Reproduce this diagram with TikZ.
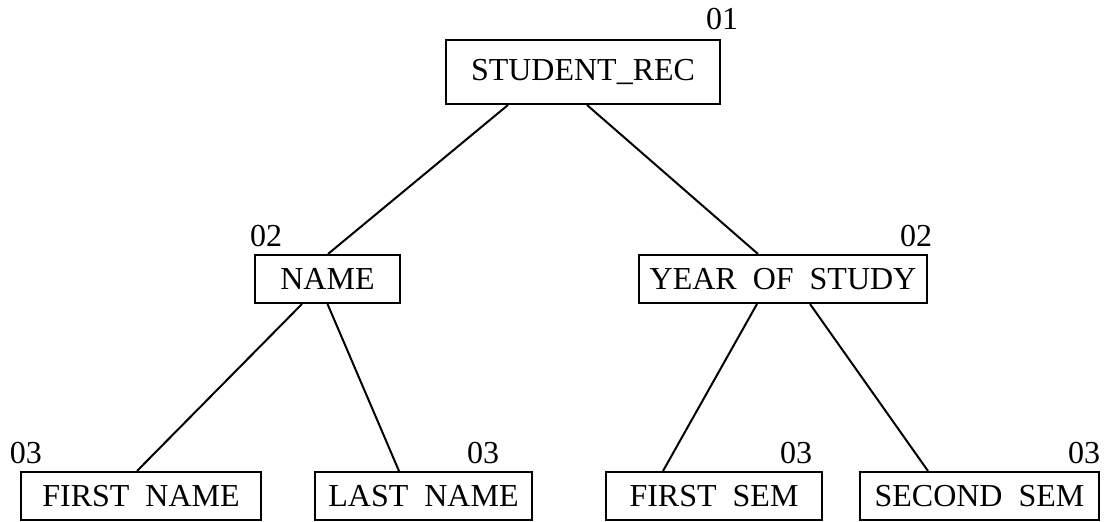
\documentclass[tikz,border=0pt]{standalone}
\usepackage{fontspec}
\setmainfont{Liberation Serif}
\usetikzlibrary{calc}

\begin{document}
\begin{tikzpicture}[x=0.5pt, y=-0.5pt]

  \tikzstyle{field} = [rectangle, draw=black, line width=1pt, inner sep=0pt, minimum height=24pt, text centered, font=\fontsize{16}{19}\selectfont]
  \tikzstyle{level} = [inner sep=0pt, font=\fontsize{16}{19}\selectfont]
  \tikzstyle{link} = [line width=1pt]

  \useasboundingbox (0,0) rectangle (1104,522);

  \node (rec)   [field, minimum width=137pt, minimum height=32pt] at (583,72) {STUDENT\_REC};
  \node (name)  [field, minimum width=72.5pt] at (327.5,279) {NAME};
  \node (year)  [field, minimum width=144pt] at (783,279) {YEAR\ \ OF\ \ STUDY};
  \node (fname) [field, minimum width=120pt] at (141,496) {FIRST\ \ NAME};
  \node (lname) [field, minimum width=108.5pt] at (423.5,496) {LAST\ \ NAME};
  \node (fsem)  [field, minimum width=108pt] at (714,496) {FIRST\ \ SEM};
  \node (ssem)  [field, minimum width=119.5pt] at (979.5,496) {SECOND\ \ SEM};

  % level numbers
  \node (lrec)   [level] at ($(rec.north east)+(1,-20)$) {01};
  \node (lname0) [level] at ($(name.north west)+(12,-18)$) {02};
  \node (lyear)  [level] at ($(year.north east)+(-12,-18)$) {02};
  \node (lfname) [level] at ($(fname.north west)+(6,-18)$) {03};
  \node (llname) [level] at ($(lname.north east)+(-50,-18)$) {03};
  \node (lfsem)  [level] at ($(fsem.north east)+(-27,-18)$) {03};
  \node (lssem)  [level] at ($(ssem.north east)+(-16,-18)$) {03};

  \draw [link] ($(rec.south)+(-75,0)$) -- ($(name.north)+(0.5,0)$);
  \draw [link] ($(rec.south)+(4,0)$) -- ($(year.north)+(-25,0)$);
  \draw [link] ($(name.south)+(-25.5,0)$) -- ($(fname.north)+(-4,0)$);
  \draw [link] ($(name.south)+(0,0)$) -- ($(lname.north)+(-24.5,0)$);
  \draw [link] ($(year.south)+(-26,0)$) -- ($(fsem.north)+(-51,0)$);
  \draw [link] ($(year.south)+(27,0)$) -- ($(ssem.north)+(-51.5,0)$);

\end{tikzpicture}
\end{document}
